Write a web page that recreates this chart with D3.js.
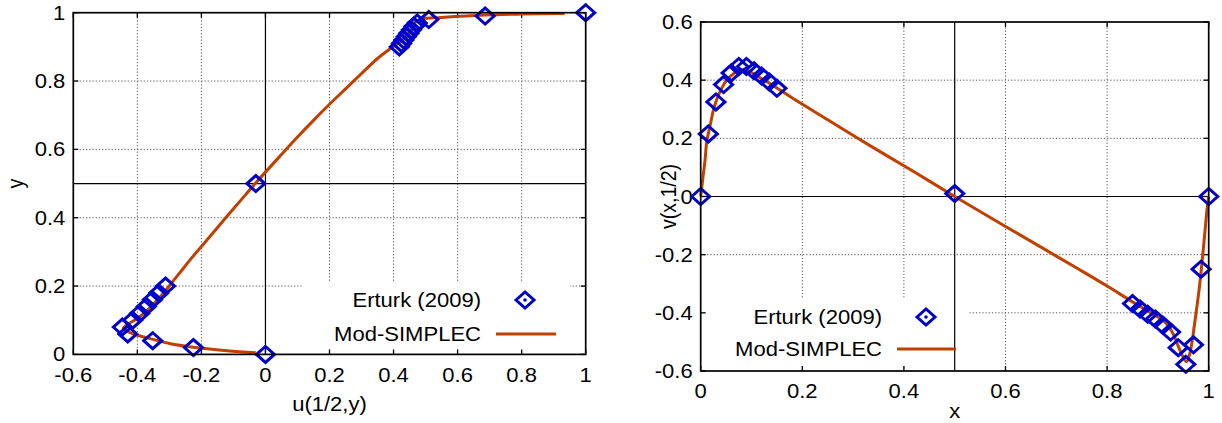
<!DOCTYPE html>
<html><head><meta charset="utf-8">
<script src="https://cdn.jsdelivr.net/npm/d3@7"></script>
<style>body{margin:0;background:#fff}svg{display:block}text{font-family:"Liberation Sans",Arial,sans-serif;fill:#000}</style>
</head><body>
<svg id="c" width="1222" height="423"></svg>
<script>
// ---- Left panel data: u(1/2,y) ----
const uY = [0,0.02,0.04,0.06,0.08,0.10,0.12,0.14,0.16,0.18,0.20,0.50,0.90,0.91,0.92,0.93,0.94,0.95,0.96,0.97,0.98,0.99,1.00];
const uErturk = [0,-0.225,-0.352,-0.43,-0.447,-0.415,-0.393,-0.372,-0.353,-0.333,-0.312,-0.030,0.418,0.425,0.432,0.440,0.448,0.456,0.464,0.474,0.510,0.686,1.0];
const modY = [0.005,0.011,0.021,0.032,0.044,0.056,0.068,0.076,0.088,0.105,0.128,0.152,0.18,0.215,0.25,0.276,0.34,0.40,0.45,0.50,0.585,0.636,0.685,0.732,0.777,0.822,0.866,0.895,0.915,0.935,0.952,0.965,0.975,0.982,0.986,0.993,0.996,0.998];
const modU = [-0.030,-0.12,-0.226,-0.30,-0.351,-0.40,-0.432,-0.444,-0.43,-0.40,-0.37,-0.345,-0.318,-0.288,-0.258,-0.236,-0.178,-0.124,-0.078,-0.032,0.05,0.10,0.15,0.20,0.25,0.30,0.35,0.39,0.42,0.445,0.458,0.464,0.47,0.49,0.55,0.684,0.80,0.934];
const xTicksL = [-0.6,-0.4,-0.2,0,0.2,0.4,0.6,0.8,1];
const yTicksL = [0,0.2,0.4,0.6,0.8,1];

// ---- Right panel data: v(x,1/2) ----
const vX = [0,0.015,0.03,0.045,0.06,0.075,0.09,0.105,0.12,0.135,0.15,0.5,0.85,0.865,0.88,0.895,0.91,0.925,0.94,0.955,0.97,0.985,1];
const vErturk = [0,0.215,0.325,0.385,0.425,0.447,0.447,0.432,0.414,0.394,0.372,0.01,-0.368,-0.387,-0.405,-0.421,-0.443,-0.466,-0.52,-0.577,-0.51,-0.25,0];
const modX = [0,0.004,0.0085,0.012,0.018,0.025,0.031,0.041,0.051,0.061,0.071,0.081,0.090,0.097,0.104,0.12,0.137,0.153,0.182,0.25,0.334,0.42,0.5,0.6,0.7,0.754,0.8,0.846,0.88,0.905,0.92,0.932,0.944,0.956,0.962,0.967,0.972,0.977,0.982,0.99,0.997,1];
const modV = [0,0.06,0.124,0.19,0.239,0.297,0.331,0.371,0.40,0.417,0.43,0.436,0.435,0.429,0.423,0.405,0.388,0.37,0.337,0.264,0.174,0.085,0.0,-0.103,-0.205,-0.26,-0.308,-0.358,-0.394,-0.42,-0.443,-0.48,-0.531,-0.568,-0.545,-0.502,-0.44,-0.376,-0.307,-0.17,-0.04,0];
const xTicksR = [0,0.2,0.4,0.6,0.8,1];
const yTicksR = [-0.6,-0.4,-0.2,0,0.2,0.4,0.6];

const legendLabels = ["Erturk (2009)","Mod-SIMPLEC"];
const BLUE = "#0000cc", ORANGE = "#c04000";
const SX = 1.13, FS = 19.5;
const fmt = d => String(+d.toFixed(1));

const svg = d3.select("#c");

function txt(g, x, y, s, anchor, rot) {
  return g.append("text").attr("font-size", FS).attr("text-anchor", anchor || "middle")
    .attr("transform", `translate(${x},${y}) scale(${SX},1)` + (rot ? ` rotate(${rot})` : ""))
    .text(s);
}
function diamond(g, x, y, dot) {
  const w = 9, h = 8;
  g.append("path").attr("d", `M${x-w},${y}L${x},${y-h}L${x+w},${y}L${x},${y+h}Z`)
    .attr("fill", "none").attr("stroke", BLUE).attr("stroke-width", 3);
  if (dot) g.append("circle").attr("cx", x).attr("cy", y).attr("r", 1.8).attr("fill", BLUE);
}

function panel(o) {
  const g = svg.append("g");
  const x = o.x, y = o.y;
  const [x0, x1] = x.range(), [y0, y1] = y.range();
  o.xGrid.forEach(v => g.append("line").attr("x1", x(v)).attr("x2", x(v)).attr("y1", y0).attr("y2", y1)
    .attr("stroke", "#555").attr("stroke-width", 1).attr("stroke-dasharray", "1.2,2"));
  o.yGrid.forEach(v => g.append("line").attr("y1", y(v)).attr("y2", y(v)).attr("x1", x0).attr("x2", x1)
    .attr("stroke", "#555").attr("stroke-width", 1).attr("stroke-dasharray", "1.2,2"));
  const L = o.legend;
  g.append("rect").attr("x", L.bx0).attr("y", L.by0).attr("width", L.bx1 - L.bx0).attr("height", L.by1 - L.by0).attr("fill", "#fff");
  g.append("line").attr("x1", x(o.xAxisAt)).attr("x2", x(o.xAxisAt)).attr("y1", y0).attr("y2", y1).attr("stroke", "#000").attr("stroke-width", 1.2);
  g.append("line").attr("y1", y(o.yAxisAt)).attr("y2", y(o.yAxisAt)).attr("x1", x0).attr("x2", x1).attr("stroke", "#000").attr("stroke-width", 1.2);
  const tl = 5;
  o.xTicks.forEach(v => {
    g.append("line").attr("x1", x(v)).attr("x2", x(v)).attr("y1", y0).attr("y2", y0 - tl).attr("stroke", "#000").attr("stroke-width", 1.3);
    g.append("line").attr("x1", x(v)).attr("x2", x(v)).attr("y1", y1).attr("y2", y1 + tl).attr("stroke", "#000").attr("stroke-width", 1.3);
    txt(g, x(v), o.xLabY, fmt(v), "middle");
  });
  o.yTicks.forEach(v => {
    g.append("line").attr("y1", y(v)).attr("y2", y(v)).attr("x1", x0).attr("x2", x0 + tl).attr("stroke", "#000").attr("stroke-width", 1.3);
    g.append("line").attr("y1", y(v)).attr("y2", y(v)).attr("x1", x1).attr("x2", x1 - tl).attr("stroke", "#000").attr("stroke-width", 1.3);
    txt(g, x0 - 8, y(v) + 7, fmt(v), "end");
  });
  const line = d3.line().x(d => x(d[0])).y(d => y(d[1])).curve(d3.curveCatmullRom.alpha(0.5));
  g.append("path").datum(o.curve).attr("d", line).attr("fill", "none").attr("stroke", ORANGE).attr("stroke-width", 3).attr("stroke-linejoin", "round");
  o.points.forEach(p => diamond(g, x(p[0]), y(p[1]), false));
  g.append("rect").attr("x", x0).attr("y", y1).attr("width", x1 - x0).attr("height", y0 - y1).attr("fill", "none").attr("stroke", "#000").attr("stroke-width", 1.7);
  txt(g, L.tx, L.y1 + 7, legendLabels[0], "end");
  diamond(g, L.mx, L.y1, true);
  txt(g, L.tx, L.y2 + 7, legendLabels[1], "end");
  g.append("line").attr("x1", L.lx0).attr("x2", L.lx1).attr("y1", L.y2).attr("y2", L.y2).attr("stroke", ORANGE).attr("stroke-width", 3);
  txt(g, (x0 + x1) / 2, o.xTitleY, o.xTitle, "middle");
  txt(g, o.yTitleX, (y0 + y1) / 2, o.yTitle, "middle", -90);
}

panel({
  x: d3.scaleLinear().domain([-0.6, 1]).range([73.3, 585.7]),
  y: d3.scaleLinear().domain([0, 1]).range([354.4, 12.7]),
  xGrid: [-0.4, -0.2, 0.2, 0.4, 0.6, 0.8], yGrid: [0.2, 0.4, 0.6, 0.8],
  xAxisAt: 0, yAxisAt: 0.5,
  xTicks: xTicksL, yTicks: yTicksL,
  xLabY: 382, xTitleY: 411, xTitle: "u(1/2,y)", yTitleX: 23, yTitle: "y",
  curve: modU.map((u, i) => [u, modY[i]]),
  points: uErturk.map((u, i) => [u, uY[i]]),
  legend: {bx0: 302, bx1: 570, by0: 283, by1: 351, tx: 481, y1: 300, y2: 334, mx: 525, lx0: 496, lx1: 556}
});
panel({
  x: d3.scaleLinear().domain([0, 1]).range([700.7, 1208.7]),
  y: d3.scaleLinear().domain([-0.6, 0.6]).range([371, 22]),
  xGrid: [0.2, 0.4, 0.6, 0.8], yGrid: [-0.4, -0.2, 0.2, 0.4],
  xAxisAt: 0.5, yAxisAt: 0,
  xTicks: xTicksR, yTicks: yTicksR,
  xLabY: 398, xTitleY: 418, xTitle: "x", yTitleX: 676, yTitle: "v(x,1/2)",
  curve: modX.map((v, i) => [v, modV[i]]),
  points: vX.map((v, i) => [v, vErturk[i]]),
  legend: {bx0: 701.5, bx1: 969, by0: 298, by1: 366, tx: 882, y1: 317, y2: 349, mx: 926, lx0: 897, lx1: 956}
});
</script>
</body></html>
